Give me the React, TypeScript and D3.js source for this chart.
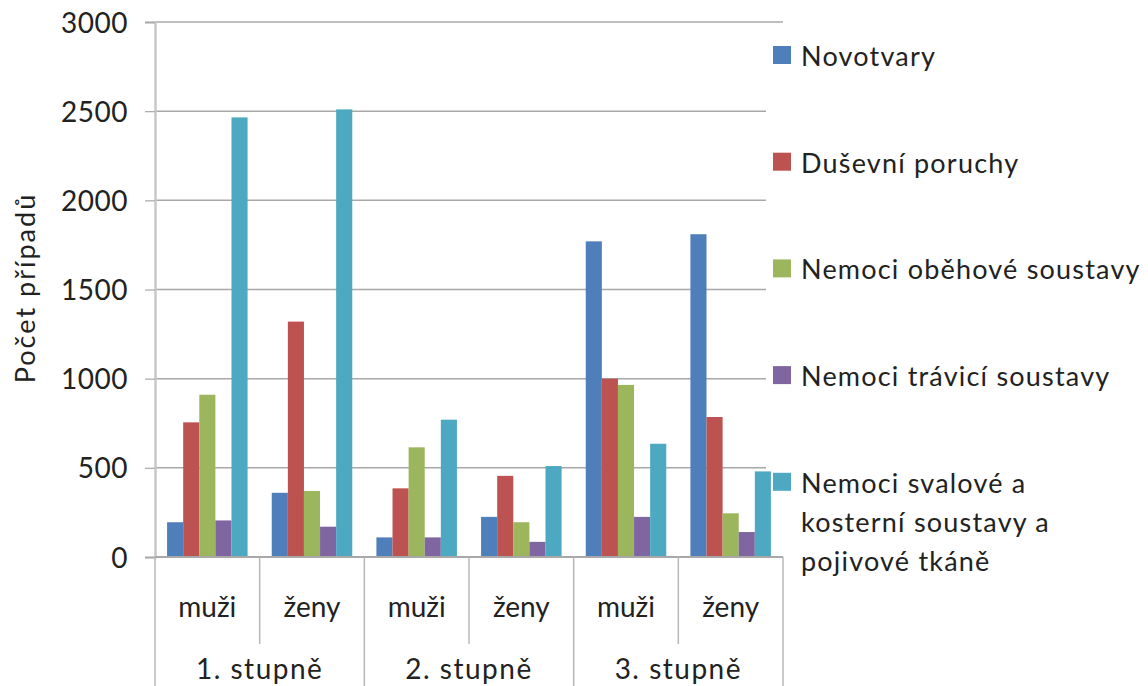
import React, { useEffect, useRef } from 'react';
import * as d3 from 'd3';

// stupeň invalidity a pohlaví
const groups = ['1. stupně', '2. stupně', '3. stupně'];
const sexes = ['muži', 'ženy'];

const seriesNames = [
  'Novotvary',
  'Duševní poruchy',
  'Nemoci oběhové soustavy',
  'Nemoci trávicí soustavy',
  'Nemoci svalové a kosterní soustavy a pojivové tkáně',
];

// hodnoty: 1.muži, 1.ženy, 2.muži, 2.ženy, 3.muži, 3.ženy
const novotvary = [195, 360, 110, 225, 1770, 1810];
const dusevni = [755, 1320, 385, 455, 1000, 785];
const obehove = [910, 370, 615, 195, 965, 245];
const travici = [205, 170, 110, 85, 225, 140];
const svalove = [2465, 2510, 770, 510, 635, 480];

const yTicks = [0, 500, 1000, 1500, 2000, 2500, 3000];

const colors = ['#4F7FBA', '#BD5350', '#9BB65D', '#8066A0', '#4DA8C2'];

const legendLines = [
  ['Novotvary'],
  ['Duševní poruchy'],
  ['Nemoci oběhové soustavy'],
  ['Nemoci trávicí soustavy'],
  ['Nemoci svalové a', 'kosterní soustavy a', 'pojivové tkáně'],
];

const FONT = 'Lato, "Open Sans", sans-serif';

const App = () => {
  const ref = useRef<SVGSVGElement>(null);

  useEffect(() => {
    const svg = d3.select(ref.current);
    svg.selectAll('*').remove();

    const left = 155, right = 783, top = 22, bottom = 557;

    const cats = groups.flatMap(g => sexes.map(s => `${g}|${s}`));
    const allSeries = [novotvary, dusevni, obehove, travici, svalove];

    const x0 = d3.scaleBand().domain(cats).range([left, right]).padding(0);
    const x1 = d3.scaleBand()
      .domain(seriesNames)
      .range([0, x0.bandwidth()])
      .paddingInner(0)
      .paddingOuter(0.75);
    const y = d3.scaleLinear().domain([0, 3000]).range([bottom, top]);

    // gridlines
    svg.append('g')
      .selectAll('line')
      .data(yTicks.filter(t => t > 0))
      .join('line')
      .attr('x1', left)
      .attr('x2', right)
      .attr('y1', d => y(d))
      .attr('y2', d => y(d))
      .attr('stroke', '#a8a8a8')
      .attr('stroke-width', 1.5);

    // legend background covers the grid
    svg.append('rect')
      .attr('x', 766)
      .attr('y', 30)
      .attr('width', 1148 - 766)
      .attr('height', 525)
      .attr('fill', '#fff');

    // bars
    allSeries.forEach((vals, si) => {
      svg.append('g')
        .selectAll('rect')
        .data(vals)
        .join('rect')
        .attr('x', (d, i) => (x0(cats[i]) as number) + (x1(seriesNames[si]) as number))
        .attr('width', x1.bandwidth())
        .attr('y', d => y(d))
        .attr('height', d => y(0) - y(d))
        .attr('fill', colors[si]);
    });

    // y axis
    const yAxis = svg.append('g')
      .attr('transform', `translate(${left},0)`)
      .call(d3.axisLeft(y).tickValues(yTicks).tickFormat(d3.format('d')).tickSize(10).tickPadding(17));
    yAxis.select('.domain').attr('stroke', '#c8c8c8').attr('stroke-width', 2.5);
    yAxis.selectAll('.tick line').attr('stroke', '#a8a8a8').attr('stroke-width', 1.2);
    yAxis.selectAll('.tick text')
      .attr('font-family', FONT)
      .attr('font-size', 28)
      .attr('letter-spacing', 0.5)
      .attr('fill', '#222')
      .attr('dy', '0.36em');

    // x axis baseline
    svg.append('line')
      .attr('x1', left)
      .attr('x2', right)
      .attr('y1', y(0))
      .attr('y2', y(0))
      .attr('stroke', '#a8a8a8')
      .attr('stroke-width', 2);

    // category separators
    const seps = d3.range(cats.length + 1);
    svg.append('g')
      .selectAll('line')
      .data(seps)
      .join('line')
      .attr('x1', i => left + i * x0.step())
      .attr('x2', i => left + i * x0.step())
      .attr('y1', y(0))
      .attr('y2', i => (i % 2 === 0 ? 686 : 644))
      .attr('stroke', '#b8b8b8')
      .attr('stroke-width', 1.5);

    // sex labels
    svg.append('g')
      .selectAll('text')
      .data(cats)
      .join('text')
      .attr('x', d => (x0(d) as number) + x0.bandwidth() / 2)
      .attr('y', 617)
      .attr('text-anchor', 'middle')
      .attr('font-family', FONT)
      .attr('font-size', 28)
      .attr('fill', '#222')
      .text(d => d.split('|')[1]);

    // group labels
    svg.append('g')
      .selectAll('text')
      .data(groups)
      .join('text')
      .attr('x', (d, i) => left + (i * 2 + 1) * x0.step())
      .attr('y', 679)
      .attr('text-anchor', 'middle')
      .attr('font-family', FONT)
      .attr('font-size', 28)
      .attr('letter-spacing', 1.5)
      .attr('fill', '#222')
      .text(d => d);

    // y title
    svg.append('text')
      .attr('transform', 'translate(35,288) rotate(-90)')
      .attr('text-anchor', 'middle')
      .attr('font-family', FONT)
      .attr('font-size', 27)
      .attr('letter-spacing', 2)
      .attr('fill', '#222')
      .text('Počet případů');

    // legend
    const lg = svg.append('g');
    legendLines.forEach((lines, i) => {
      const yy = 46 + i * 106.7;
      lg.append('rect')
        .attr('x', 773)
        .attr('y', yy)
        .attr('width', 18)
        .attr('height', 18)
        .attr('fill', colors[i]);
      lines.forEach((ln, j) => {
        lg.append('text')
          .attr('x', 801)
          .attr('y', yy + 20 + j * 39)
          .attr('font-family', FONT)
          .attr('font-size', 27)
          .attr('letter-spacing', 1.2)
          .attr('fill', '#222')
          .text(ln);
      });
    });
  }, []);

  return (
    <svg
      ref={ref}
      width={1148}
      height={686}
      style={{ position: 'absolute', left: 0, top: 0, background: '#fff' }}
    />
  );
};

export default App;
